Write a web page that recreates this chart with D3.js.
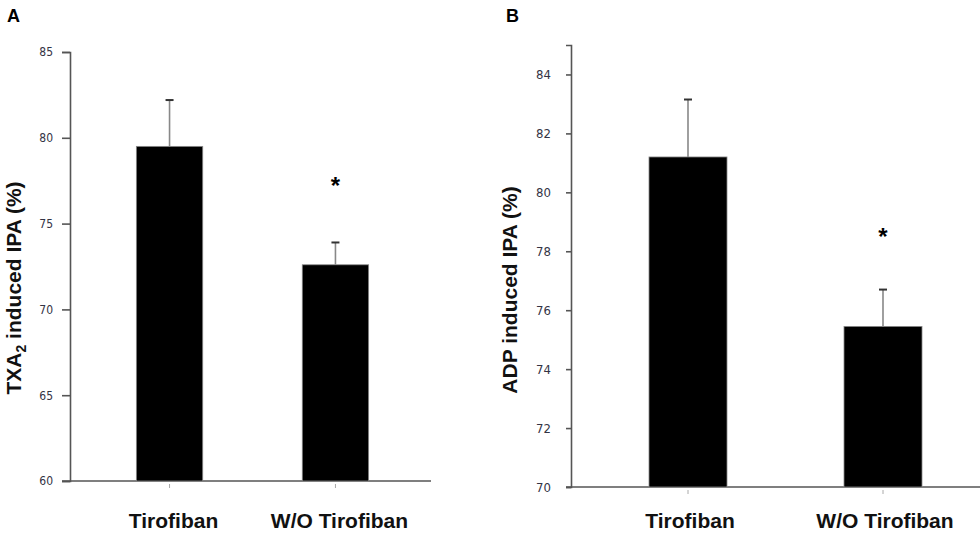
<!DOCTYPE html>
<html>
<head>
<meta charset="utf-8">
<script src="https://cdn.jsdelivr.net/npm/d3@7/dist/d3.min.js"></script>
<style>
  body { margin: 0; background: #fff; }
  svg { display: block; }
  .tick text { font-family: "DejaVu Sans", sans-serif; font-stretch: condensed; fill: #334; }
</style>
</head>
<body>
<svg id="chart" width="980" height="535"></svg>
<script>
// ---- Data ----
const categories = ["Tirofiban", "W/O Tirofiban"];
const txa2Means = [79.5, 72.6];
const txa2Errors = [2.7, 1.3];
const adpMeans = [81.2, 75.45];
const adpErrors = [1.95, 1.25];
const significance = ["", "*"];
const txa2Ticks = [60, 65, 70, 75, 80, 85];
const adpTicks = [70, 72, 74, 76, 78, 80, 82, 84];

const svg = d3.select("#chart");

function panel(cfg) {
  const g = svg.append("g");
  const y = d3.scaleLinear().domain(cfg.domain).range([cfg.yBottom, cfg.yTop]);
  const x = d3.scaleBand().domain(categories).range([cfg.xLeft, cfg.xRight])
    .paddingInner(0.6).paddingOuter(0.4);

  // y axis
  const yAxis = d3.axisLeft(y).tickValues(cfg.ticks).tickSizeOuter(0)
    .tickSize(cfg.tickLen).tickPadding(cfg.tickPad);
  const ya = g.append("g").attr("transform", `translate(${cfg.xLeft},0)`).call(yAxis);
  ya.select(".domain").attr("stroke", "#555").attr("stroke-width", 1.6);
  ya.selectAll(".tick line").attr("stroke", "#555").attr("stroke-width", 1.6);
  ya.selectAll(".tick text").style("font-size", cfg.tickFont + "px");

  // x axis line
  g.append("line")
    .attr("x1", cfg.xLeft - cfg.tickLen).attr("x2", cfg.xAxisEnd)
    .attr("y1", y(cfg.domain[0])).attr("y2", y(cfg.domain[0]))
    .attr("stroke", "#555").attr("stroke-width", 1.6);

  // x ticks (small, below)
  g.selectAll(".xt").data(categories).enter().append("line")
    .attr("x1", d => x(d) + x.bandwidth() / 2).attr("x2", d => x(d) + x.bandwidth() / 2)
    .attr("y1", y(cfg.domain[0]) + 3).attr("y2", y(cfg.domain[0]) + 7)
    .attr("stroke", "#aaa").attr("stroke-width", 1);

  // bars
  g.selectAll(".bar").data(cfg.means).enter().append("rect")
    .attr("x", (d, i) => x(categories[i]))
    .attr("width", x.bandwidth())
    .attr("y", d => y(d))
    .attr("height", d => y(cfg.domain[0]) - y(d))
    .attr("fill", "#000").attr("stroke", "#888").attr("stroke-width", 0.8);

  // error bars
  cfg.means.forEach((m, i) => {
    const cx = x(categories[i]) + x.bandwidth() / 2;
    const top = y(m + cfg.errors[i]);
    g.append("line").attr("x1", cx).attr("x2", cx)
      .attr("y1", y(m)).attr("y2", top)
      .attr("stroke", "#888").attr("stroke-width", 1.6);
    g.append("line").attr("x1", cx - 4).attr("x2", cx + 4)
      .attr("y1", top).attr("y2", top)
      .attr("stroke", "#333").attr("stroke-width", 2);
    if (significance[i]) {
      g.append("text").attr("x", cx).attr("y", top - cfg.starOffset)
        .attr("text-anchor", "middle")
        .style("font-family", "Liberation Sans, Arial, sans-serif")
        .style("font-weight", "bold").style("font-size", "24px")
        .text(significance[i]);
    }
  });

  // category labels
  g.selectAll(".cl").data(categories).enter().append("text")
    .attr("x", d => x(d) + x.bandwidth() / 2 + cfg.labelShift)
    .attr("y", cfg.labelY)
    .attr("text-anchor", "middle")
    .style("font-family", "Liberation Sans, Arial, sans-serif")
    .style("font-weight", "bold").style("font-size", "21px")
    .style("fill", "#111")
    .text(d => d);

  // y title
  const t = g.append("text")
    .attr("transform", `translate(${cfg.titleX},${cfg.titleY}) rotate(-90)`)
    .attr("text-anchor", "middle")
    .style("font-family", "Liberation Sans, Arial, sans-serif")
    .style("font-weight", "bold").style("font-size", "21px")
    .style("fill", "#111");
  cfg.title(t);

  // panel letter
  g.append("text").attr("x", cfg.letterX).attr("y", 22)
    .style("font-family", "Liberation Sans, Arial, sans-serif")
    .style("font-weight", "bold").style("font-size", "18px")
    .text(cfg.letter);
}

panel({
  domain: [60, 85], ticks: txa2Ticks, means: txa2Means, errors: txa2Errors,
  yTop: 52, yBottom: 481, xLeft: 70, xRight: 435, xAxisEnd: 431,
  tickLen: 8, tickPad: 9, tickFont: 12, starOffset: 48, labelY: 528, labelShift: 4,
  titleX: 21, titleY: 288, letterX: 7, letter: "A",
  title: t => {
    t.append("tspan").text("TXA");
    t.append("tspan").attr("dy", 5).style("font-size", "14px").text("2");
    t.append("tspan").attr("dy", -5).text(" induced IPA (%)");
  }
});

panel({
  domain: [70, 85], ticks: adpTicks, means: adpMeans, errors: adpErrors,
  yTop: 45, yBottom: 487, xLeft: 571, xRight: 1000, xAxisEnd: 980,
  tickLen: 5, tickPad: 15, tickFont: 13, starOffset: 45, labelY: 528, labelShift: 2,
  titleX: 517, titleY: 290, letterX: 506, letter: "B",
  title: t => { t.text("ADP induced IPA (%)"); }
});
</script>
</body>
</html>
